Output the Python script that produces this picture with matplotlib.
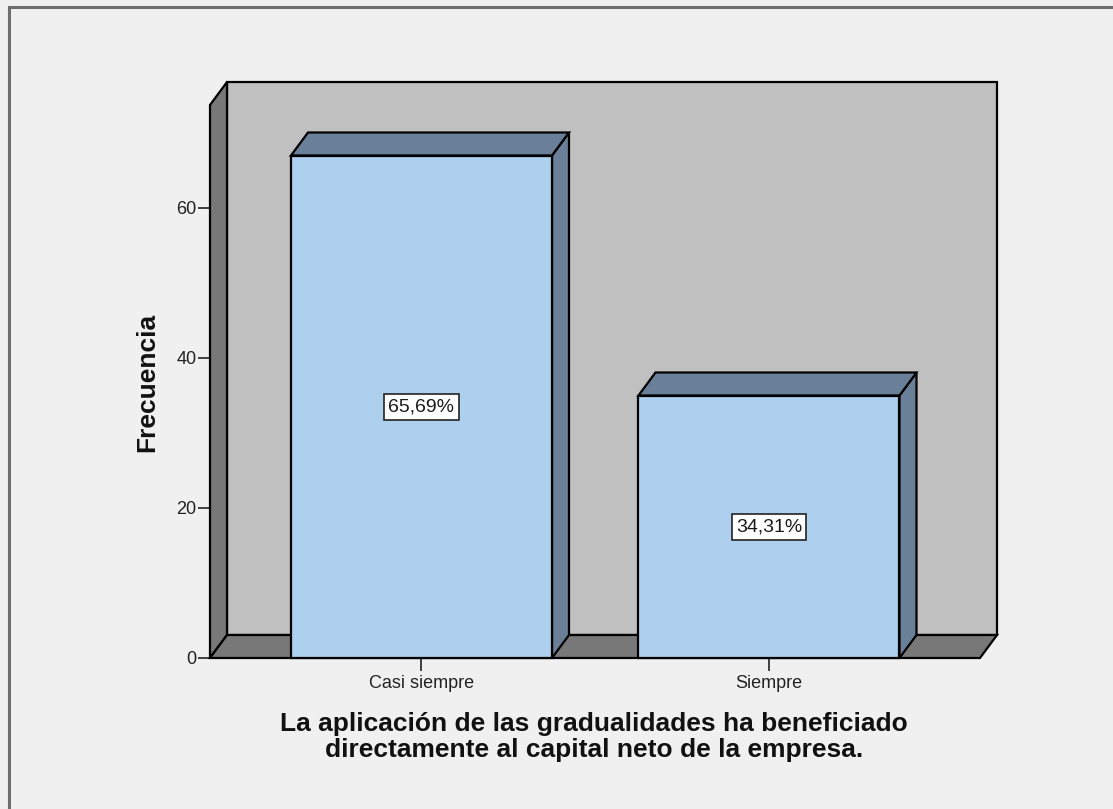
import matplotlib
matplotlib.use("Agg")
import matplotlib.pyplot as plt
from matplotlib.patches import Rectangle, Polygon

categories = ["Casi siempre", "Siempre"]
frecuencia = [67, 35]
porcentajes = ["65,69%", "34,31%"]
y_ticks = [0, 20, 40, 60]

plt.rcParams['font.family'] = ['Liberation Sans', 'DejaVu Sans']

W, H = 1113, 809
fig = plt.figure(figsize=(W / 100, H / 100), dpi=100, facecolor='#f0f0f0')

# outer frame (only top and left visible)
fig.patches.append(Rectangle((8.5, -20), W + 60, H - 6.5 + 20, transform=None,
                             fill=False, edgecolor='#6e6e6e', lw=2.2))

# axes = front plane of the 3d box, in pixels
left, right, bottom, top = 210, 980, 658, 82
ax = fig.add_axes([left / W, (H - bottom) / H, (right - left) / W, (bottom - top) / H])
ax.set_facecolor('none')
for s in ax.spines.values():
    s.set_visible(False)

x0, x1 = -0.6086, 1.6072
y0, y1 = 0, 76.8
ax.set_xlim(x0, x1)
ax.set_ylim(y0, y1)

# depth offset (17 px right, 23 px up) in data units
dx = 17 * (x1 - x0) / (right - left)
dy = 23 * (y1 - y0) / (bottom - top)
ytop = y1 - dy

edge = dict(edgecolor='black', lw=1.6, joinstyle='miter', clip_on=False)

# back wall, left wall, floor
ax.add_patch(Rectangle((x0 + dx, dy), x1 - x0, ytop, facecolor='#c0c0c0', zorder=1, **edge))
ax.add_patch(Polygon([(x0, 0), (x0, ytop), (x0 + dx, y1), (x0 + dx, dy)],
                     facecolor='#787878', zorder=2, **edge))
ax.add_patch(Polygon([(x0, 0), (x1, 0), (x1 + dx, dy), (x0 + dx, dy)],
                     facecolor='#787878', zorder=2, **edge))

bw = 261 / 347.5
for i, (v, p) in enumerate(zip(frecuencia, porcentajes)):
    l, r = i - bw / 2, i + bw / 2
    ax.add_patch(Polygon([(r, 0), (r, v), (r + dx, v + dy), (r + dx, dy)],
                         facecolor='#6a8098', zorder=3, **edge))
    ax.add_patch(Polygon([(l, v), (r, v), (r + dx, v + dy), (l + dx, v + dy)],
                         facecolor='#6a8098', zorder=3, **edge))
    ax.add_patch(Rectangle((l, 0), bw, v, facecolor='#acd0ee', zorder=4, **edge))
    ax.text(i, v / 2, p, ha='center', va='center', fontsize=14, color='#1a1a1a', zorder=5,
            bbox=dict(boxstyle='square,pad=0.22', facecolor='white', edgecolor='#222222', lw=1.2))

ax.set_xticks(range(len(categories)))
ax.set_xticklabels(categories)
ax.set_yticks(y_ticks)
ax.tick_params(axis='y', length=8.6, width=1.2, pad=1, labelsize=13, colors='#222222')
ax.tick_params(axis='x', length=9.5, width=1.2, pad=3, labelsize=13, colors='#222222')

fig.text(147 / W, 1 - 382 / H, 'Frecuencia', rotation=90, ha='center', va='center',
         fontsize=19, fontweight='bold', color='#111111')
fig.text(594 / W, 1 - 737 / H,
         'La aplicación de las gradualidades ha beneficiado\ndirectamente al capital neto de la empresa.',
         ha='center', va='center', fontsize=19, fontweight='bold', color='#111111',
         linespacing=1.12)

fig.savefig('out.png', dpi=100, facecolor=fig.get_facecolor())
